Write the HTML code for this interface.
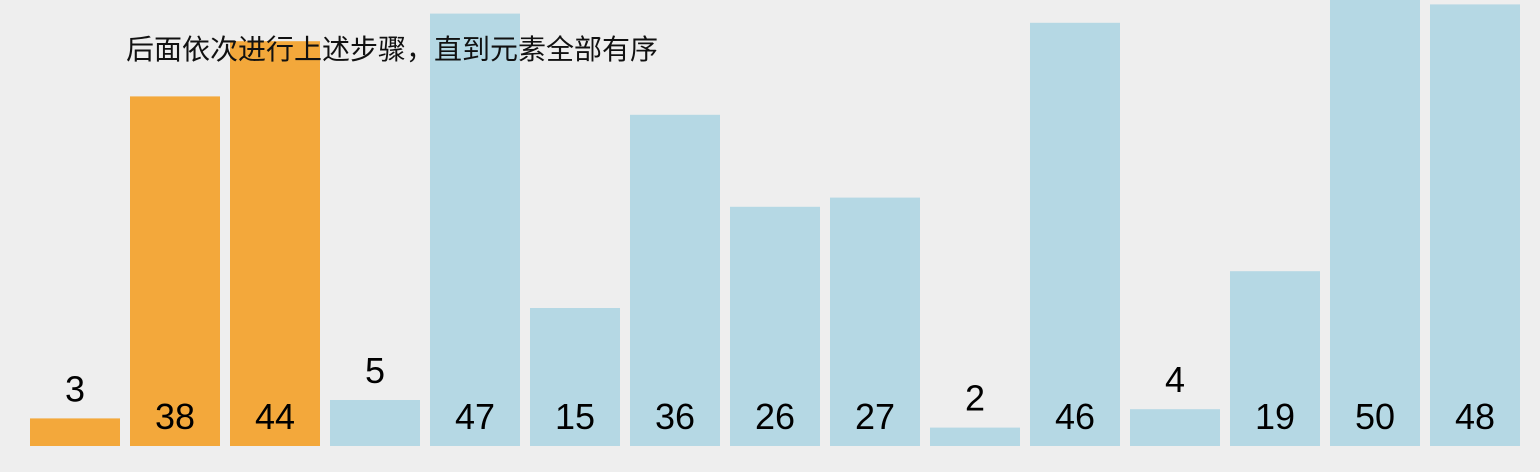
<!DOCTYPE html>
<html><head><meta charset="utf-8"><style>
html,body{margin:0;padding:0;background:#eeeeee;width:1540px;height:472px;overflow:hidden}
svg{display:block}
text{font-family:"Liberation Sans","Noto Sans CJK SC",sans-serif}
</style></head><body>
<svg id="chart" width="1540" height="472" viewBox="0 0 1540 472">
<rect width="1540" height="472" fill="#eeeeee"/>
<g id="bars"></g>
<text x="126" y="59" font-size="28" fill="#111">后面依次进行上述步骤，直到元素全部有序</text>
</svg>
<script>
const values = [3, 38, 44, 5, 47, 15, 36, 26, 27, 2, 46, 4, 19, 50, 48];
const highlighted = [true, true, true, false, false, false, false, false, false, false, false, false, false, false, false];
const baseY = 446, unit = 9.2, x0 = 30, step = 100, bw = 90;
function xPos(i){ return x0 + i*step; }
function yPos(v){ return baseY - v*unit; }
const g = document.getElementById('bars');
const ns = 'http://www.w3.org/2000/svg';
values.forEach((v,i)=>{
  const r = document.createElementNS(ns,'rect');
  
  
  r.setAttribute('x', xPos(i));
  r.setAttribute('y', yPos(v));
  r.setAttribute('width', bw);
  r.setAttribute('height', baseY - yPos(v));
  r.setAttribute('fill', highlighted[i] ? '#f3a83b' : '#b5d8e4');
  g.appendChild(r);
  const t = document.createElementNS(ns,'text');
  
  
  const top = yPos(v);
  const cy = top > 380 ? top - 30 : 416;
  t.setAttribute('x', xPos(i) + bw/2);
  t.setAttribute('y', cy + 13);
  t.setAttribute('text-anchor', 'middle');
  t.setAttribute('font-size', '36');
  t.setAttribute('fill', '#000');
  t.textContent = v;
  g.appendChild(t);
});
</script>
</body></html>
